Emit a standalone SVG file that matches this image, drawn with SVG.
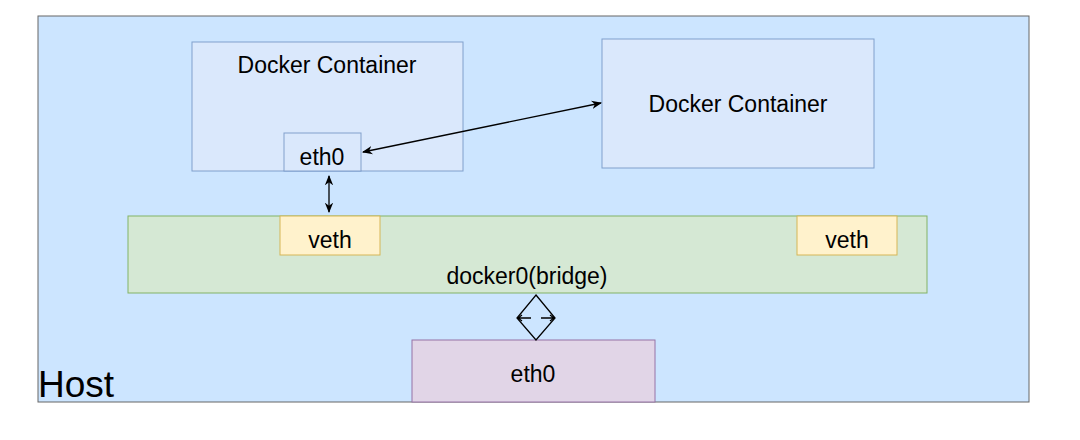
<svg xmlns="http://www.w3.org/2000/svg" width="1080" height="440" viewBox="0 0 1080 440">
<style>
text{font-family:"Liberation Sans",Arial,sans-serif;font-size:23px;fill:#000;text-anchor:middle}
.c{fill:#dae8fc;stroke:#6c8ebf;stroke-opacity:.8}
.v{fill:#fff2cc;stroke:#d6b656}
.ln{stroke:#000;stroke-width:1.3;fill:none}
</style>
<defs><marker id="a" viewBox="0 0 10 10" refX="9" refY="5" markerWidth="8" markerHeight="8" orient="auto-start-reverse"><path d="M0,1 L10,5 L0,9 L3,5 z" fill="#000"/></marker></defs>
<rect width="1080" height="440" fill="#fff"/>
<g id="host"><rect x="38" y="16" width="991" height="386" fill="#cce5ff" stroke="#666"/><text x="38" y="397" style="font-size:37px;text-anchor:start">Host</text></g>
<g id="container1"><rect class="c" x="192" y="42" width="271" height="129"/><text x="327" y="73">Docker Container</text></g>
<g id="eth0-container"><rect class="c" x="284" y="133" width="77" height="38"/><text x="322" y="165">eth0</text></g>
<g id="container2"><rect class="c" x="602" y="39" width="272" height="129"/><text x="738" y="112">Docker Container</text></g>
<g id="bridge"><rect x="128" y="216" width="799" height="77" fill="#d5e8d4" stroke="#82b366"/><text x="527" y="284">docker0(bridge)</text></g>
<g id="veth1"><rect class="v" x="280" y="216" width="100" height="39"/><text x="330" y="248">veth</text></g>
<g id="veth2"><rect class="v" x="797" y="216" width="100" height="39"/><text x="847" y="248">veth</text></g>
<g id="eth0-host"><rect x="412" y="340" width="243" height="62" fill="#e1d5e7" stroke="#9673a6"/><text x="533" y="382">eth0</text></g>
<g id="connectors">
<line class="ln" x1="363" y1="152" x2="601" y2="103" marker-start="url(#a)" marker-end="url(#a)"/>
<line class="ln" x1="329" y1="176" x2="329" y2="212" marker-start="url(#a)" marker-end="url(#a)"/>
<path class="ln" d="M536,295 L555,318 L536,340 L517,318 Z"/>
<path class="ln" d="M531,318 H518 M522,315 L518,318 L522,321 M541,318 H554 M550,315 L554,318 L550,321"/>
</g>
</svg>
